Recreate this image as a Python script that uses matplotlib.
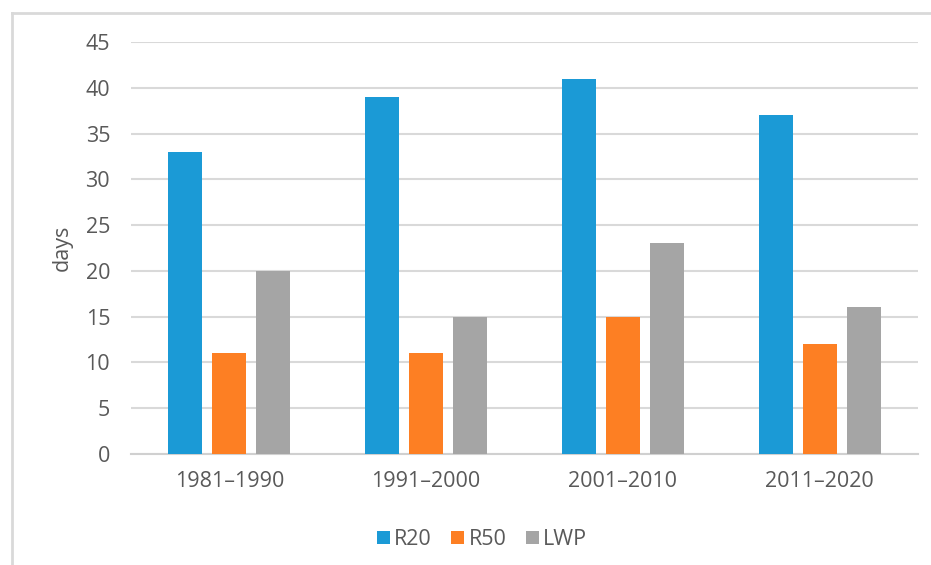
import numpy as np
from matplotlib import pyplot as plt
from matplotlib.lines import Line2D

periods = ["1981–1990", "1991–2000", "2001–2010", "2011–2020"]
r20 = [33, 39, 41, 37]
r50 = [11, 11, 15, 12]
lwp = [20, 15, 23, 16]
series = ["R20", "R50", "LWP"]
colors = ["#1b9ad6", "#fd7f23", "#a5a5a5"]

plt.rcParams['font.family'] = ['Open Sans', 'DejaVu Sans']
txt = "#595959"
fs = 15.5

fig = plt.figure(figsize=(9.31, 5.65), dpi=100)
ax = fig.add_axes([0.1407, 0.1965, 0.8453, 0.7292])

x = np.arange(len(periods))
w = 0.173
off = 0.224
for i, (vals, name) in enumerate(zip([r20, r50, lwp], series)):
    ax.bar(x + (i - 1) * off, vals, w, color=colors[i], label=name, zorder=3)

ax.set_xlim(-0.5, 3.5)
ax.set_ylim(0, 45)
ax.set_yticks(range(0, 46, 5))
ax.set_xticks(x)
ax.set_xticklabels(periods)
ax.yaxis.grid(True, color="#d9d9d9", linewidth=1.5, zorder=0)
for s in ["top", "right", "left"]:
    ax.spines[s].set_visible(False)
ax.spines["bottom"].set_color("#d0d0d0")
ax.spines["bottom"].set_linewidth(1.5)
ax.tick_params(length=0, labelsize=fs, labelcolor=txt)
ax.tick_params(axis="y", pad=15)
ax.tick_params(axis="x", pad=12)
ax.set_ylabel("days", fontsize=fs, color=txt, labelpad=9)

ax.legend(loc="upper center", bbox_to_anchor=(0.446, -0.135), ncol=3, frameon=False,
          fontsize=fs, labelcolor=txt, handlelength=0.6, handleheight=0.6,
          handletextpad=0.2, columnspacing=0.9)

# outer chart frame (left and top edges visible)
fig.add_artist(Line2D([0.0129, 0.0129], [0, 0.977], color="#d9d9d9", linewidth=2))
fig.add_artist(Line2D([0.0129, 1.0], [0.977, 0.977], color="#d9d9d9", linewidth=2))

fig.savefig("out.png", dpi=100)
